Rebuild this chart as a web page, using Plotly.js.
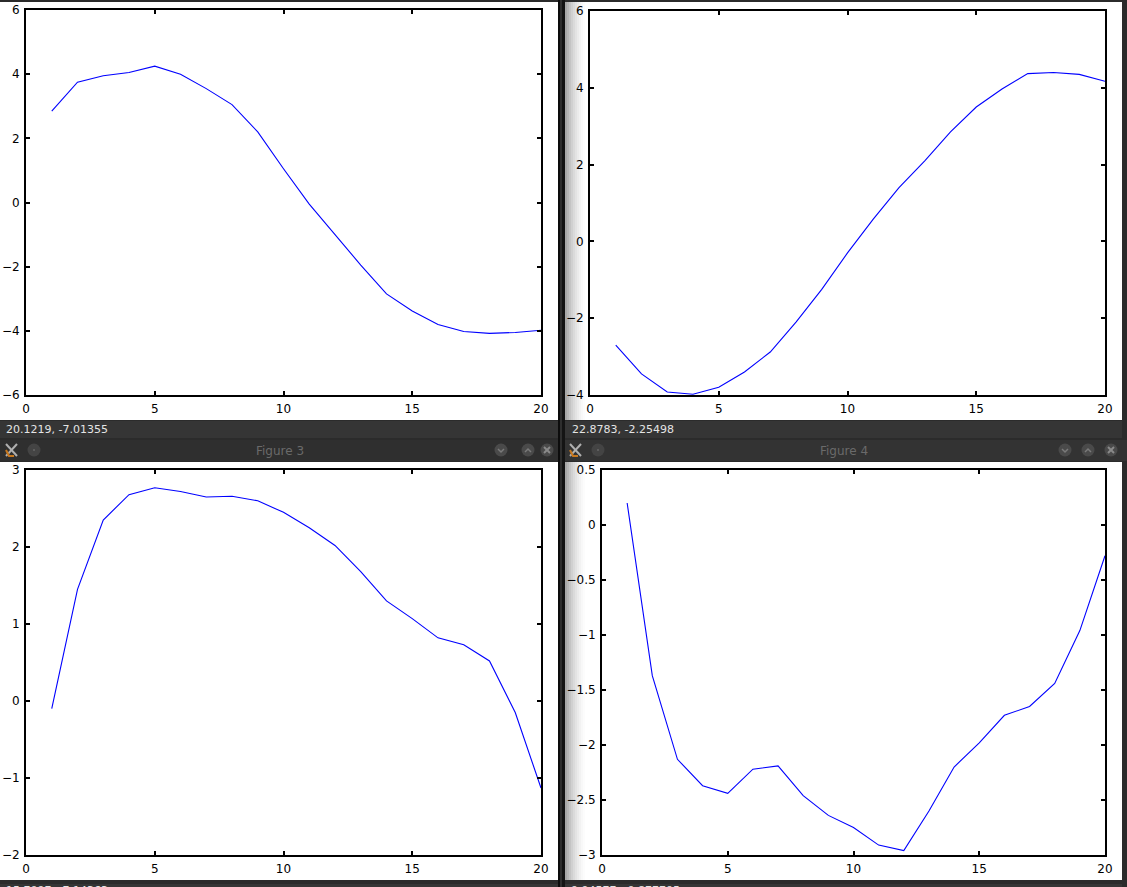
<!DOCTYPE html>
<html><head><meta charset="utf-8">
<script src="https://cdn.plot.ly/plotly-3.0.1.min.js"></script>
<style>html,body{margin:0;padding:0;background:#2b2b2b;overflow:hidden}</style>
</head><body><div id="chart" style="width:1127px;height:887px"></div>
<script>
const xValues=[1,2,3,4,5,6,7,8,9,10,11,12,13,14,15,16,17,18,19,20];
const figure1=[2.85,3.75,3.95,4.05,4.25,4.0,3.55,3.05,2.2,1.05,-0.05,-1.0,-1.95,-2.85,-3.38,-3.8,-4.02,-4.08,-4.05,-3.98];
const figure2=[-2.7,-3.45,-3.92,-3.98,-3.8,-3.4,-2.88,-2.1,-1.25,-0.3,0.58,1.4,2.1,2.85,3.5,3.97,4.37,4.4,4.35,4.17];
const figure3=[-0.1,1.45,2.35,2.68,2.77,2.72,2.65,2.66,2.6,2.45,2.25,2.02,1.68,1.3,1.07,0.82,0.73,0.52,-0.15,-1.13];
const figure4=[0.2,-1.37,-2.13,-2.37,-2.44,-2.22,-2.19,-2.46,-2.64,-2.75,-2.91,-2.96,-2.6,-2.2,-1.98,-1.73,-1.65,-1.44,-0.96,-0.28];
const xTicks=[0,5,10,15,20];
const yTicks1=[-6,-4,-2,0,2,4,6];
const yTicks2=[-4,-2,0,2,4,6];
const yTicks3=[-2,-1,0,1,2,3];
const yTicks4=[-3,-2.5,-2,-1.5,-1,-0.5,0,0.5];
const yLabels4=['\u22123','\u22122.5','\u22122','\u22121.5','\u22121','\u22120.5','0','0.5'];
const statusTexts=['20.1219, -7.01355','22.8783, -2.25498','15.7097, -7.14363','9.94577, -0.877705'];
const windowTitles=['Figure 3','Figure 4'];

const W=1127,H=887;
const fx=p=>p/W, fy=p=>1-p/H;
const font={family:'"DejaVu Sans", sans-serif',size:12,color:'#000'};
const common={ticks:'inside',ticklen:4,tickwidth:2,tickcolor:'#000',mirror:'ticks',showline:true,linecolor:'#000',linewidth:2,
  showgrid:false,zeroline:false,tickfont:font,automargin:false,ticklabelstandoff:2};
function axisX(l,r,anchor){return {...common,domain:[fx(l),fx(r)],range:[0,20],tickvals:xTicks,ticktext:xTicks.map(String),anchor,tickangle:0};}
function axisY(t,b,range,vals,labels,anchor){return {...common,domain:[fy(b),fy(t)],range,tickvals:vals,
  ticktext:labels||vals.map(v=>v<0?'\u2212'+Math.abs(v):String(v)),anchor};}
const line={color:'#0000ff',width:1.1};
const data=[
 {x:xValues,y:figure1,mode:'lines',line,xaxis:'x',yaxis:'y'},
 {x:xValues,y:figure2,mode:'lines',line,xaxis:'x2',yaxis:'y2'},
 {x:xValues,y:figure3,mode:'lines',line,xaxis:'x3',yaxis:'y3'},
 {x:xValues,y:figure4,mode:'lines',line,xaxis:'x4',yaxis:'y4'}
];
function rect(x0,y0,x1,y1,c){return {type:'rect',xref:'paper',yref:'paper',x0:fx(x0),x1:fx(x1),y0:fy(y0),y1:fy(y1),fillcolor:c,line:{width:0},layer:'below'};}
function dot(cx,cy,r,c){return {type:'circle',xref:'paper',yref:'paper',x0:fx(cx-r),x1:fx(cx+r),y0:fy(cy-r),y1:fy(cy+r),fillcolor:c,line:{width:0},layer:'below'};}
function seg(pts,c,w){return {type:'path',xref:'paper',yref:'paper',path:pts.map((p,i)=>(i?'L':'M')+fx(p[0])+' '+fy(p[1])).join(' '),line:{color:c,width:w},layer:'below'};}
const shapes=[
 rect(0,0,1127,887,'#2b2b2b'),
 rect(0,2,558,420,'#ffffff'),
 rect(565,2,1122,420,'#ffffff'),
 rect(0,462,558,880,'#ffffff'),
 rect(565,462,1122,880,'#ffffff'),
 rect(0,421,558,438,'#353535'),
 rect(565,421,1122,438,'#353535'),
 rect(0,884,558,887,'#353535'),
 rect(565,884,1122,887,'#353535'),
 rect(0,440,558,461,'#2f2f2f'),
 rect(565,440,1127,461,'#333333'),
 rect(558,0,565,887,'#2e2e2e'),
 rect(558,0,560,887,'#0c0c0c'),
 rect(562,0,565,887,'#141414')
];
const grads=['#a8a8a8','#b6b6b6','#c4c4c4','#d0d0d0','#dadada','#e3e3e3','#ebebeb','#f2f2f2','#f8f8f8','#fcfcfc'];
[[2,420],[462,880]].forEach(([a,b])=>grads.forEach((c,i)=>shapes.push(rect(565+i*2,a,567+i*2,b,c))));
[[501,528,547],[1065,1088,1111]].forEach(xs=>{
  xs.forEach(x=>shapes.push(dot(x,450,6.5,'#4a4a4a')));
  shapes.push(seg([[xs[0]-3,449],[xs[0],452],[xs[0]+3,449]],'#7a7a7a',1.5));
  shapes.push(seg([[xs[1]-3,452],[xs[1],449],[xs[1]+3,452]],'#7a7a7a',1.5));
  shapes.push(seg([[xs[2]-3,447],[xs[2]+3,453]],'#8a8a8a',2));
  shapes.push(seg([[xs[2]-3,453],[xs[2]+3,447]],'#8a8a8a',2));
});
[34,598].forEach(x=>{shapes.push(dot(x,450,6.5,'#444444'));shapes.push(dot(x,450,1,'#666666'));});
[12,576].forEach(x=>{
  shapes.push(seg([[x-6,444],[x+5,456]],'#b0b0b0',2));
  shapes.push(seg([[x+5,444],[x-6,456]],'#b0b0b0',2));
  shapes.push(seg([[x-6,450],[x-3,456],[x+2,456]],'#c8781e',2));
});
const ann=(x,y,text,color,size,anchor)=>({xref:'paper',yref:'paper',x:fx(x),y:fy(y),text,showarrow:false,
  xanchor:anchor||'left',yanchor:'middle',font:{family:'"DejaVu Sans", sans-serif',size,color}});
const annotations=[
 ann(4,429.5,statusTexts[0],'#e4e4e4',11),
 ann(570,429.5,statusTexts[1],'#e4e4e4',11),
 ann(4,891,statusTexts[2],'#e4e4e4',11),
 ann(569,891,statusTexts[3],'#e4e4e4',11),
 ann(280,451,windowTitles[0],'#6a6a6a',12,'center'),
 ann(844,451,windowTitles[1],'#6a6a6a',12,'center')
];
const layout={width:W,height:H,autosize:false,margin:{l:0,r:0,t:0,b:0,pad:0},paper_bgcolor:'#2b2b2b',plot_bgcolor:'#ffffff',showlegend:false,
 xaxis:axisX(26,541,'y'),yaxis:axisY(10,395,[-6,6],yTicks1,null,'x'),
 xaxis2:axisX(590,1105,'y2'),yaxis2:axisY(11,395,[-4,6],yTicks2,null,'x2'),
 xaxis3:axisX(26,541,'y3'),yaxis3:axisY(470,855,[-2,3],yTicks3,null,'x3'),
 xaxis4:axisX(602,1105,'y4'),yaxis4:axisY(470,855,[-3,0.5],yTicks4,yLabels4,'x4'),
 shapes,annotations};
Plotly.newPlot('chart',data,layout,{displayModeBar:false,staticPlot:true});
</script></body></html>
